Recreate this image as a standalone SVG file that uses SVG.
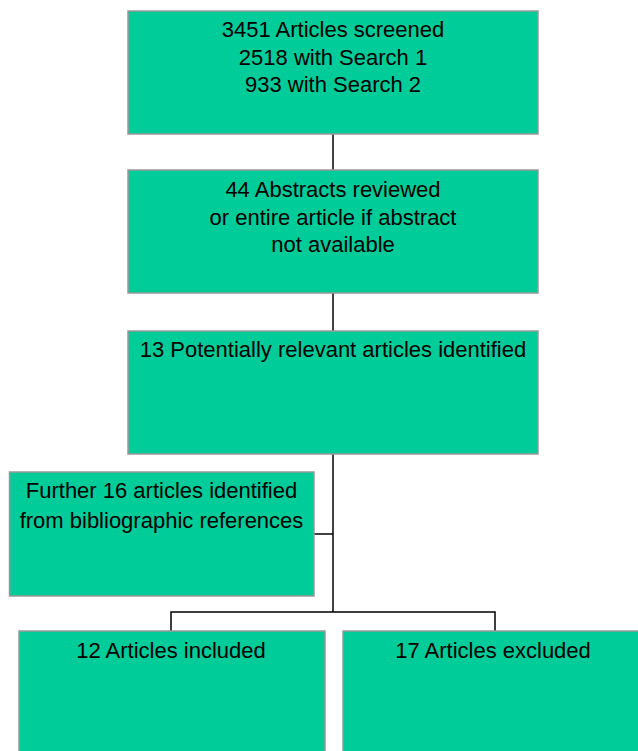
<svg xmlns="http://www.w3.org/2000/svg" width="638" height="751" viewBox="0 0 638 751">
<style>
.box{fill:#00CC99;stroke:#999999;stroke-width:1.5}
.t{font-family:"Liberation Sans",Arial,sans-serif;font-size:22px;fill:#000;text-anchor:middle}
.c{fill:none;stroke:#000;stroke-width:1.5}
</style>
<rect width="638" height="751" fill="#fff"/>
<g id="connectors">
<line class="c" x1="333" y1="134" x2="333" y2="170"/>
<line class="c" x1="333" y1="293" x2="333" y2="331"/>
<line class="c" x1="333" y1="454" x2="333" y2="612"/>
<line class="c" x1="314" y1="534" x2="333" y2="534"/>
<polyline class="c" points="171,631 171,612 495,612 495,631"/>
</g>
<g id="n1">
<rect class="box" x="128" y="11" width="410" height="123"/>
<text class="t" x="333" y="37">3451 Articles screened</text>
<text class="t" x="333" y="64.5">2518 with Search 1</text>
<text class="t" x="333" y="91.5">933 with Search 2</text>
</g>
<g id="n2">
<rect class="box" x="128" y="170" width="410" height="123"/>
<text class="t" x="333" y="196.5">44 Abstracts reviewed</text>
<text class="t" x="333" y="224.5">or entire article if abstract</text>
<text class="t" x="333" y="251.5">not available</text>
</g>
<g id="n3">
<rect class="box" x="128" y="331" width="410" height="123"/>
<text class="t" x="333" y="357">13 Potentially relevant articles identified</text>
</g>
<g id="n4">
<rect class="box" x="9.5" y="472" width="304.5" height="124"/>
<text class="t" x="161.5" y="498">Further 16 articles identified</text>
<text class="t" x="161.5" y="527.5">from bibliographic references</text>
</g>
<g id="n5">
<rect class="box" x="19" y="631" width="306" height="130"/>
<text class="t" x="171" y="658">12 Articles included</text>
</g>
<g id="n6">
<rect class="box" x="343" y="631" width="310" height="130"/>
<text class="t" x="493" y="658">17 Articles excluded</text>
</g>
</svg>
